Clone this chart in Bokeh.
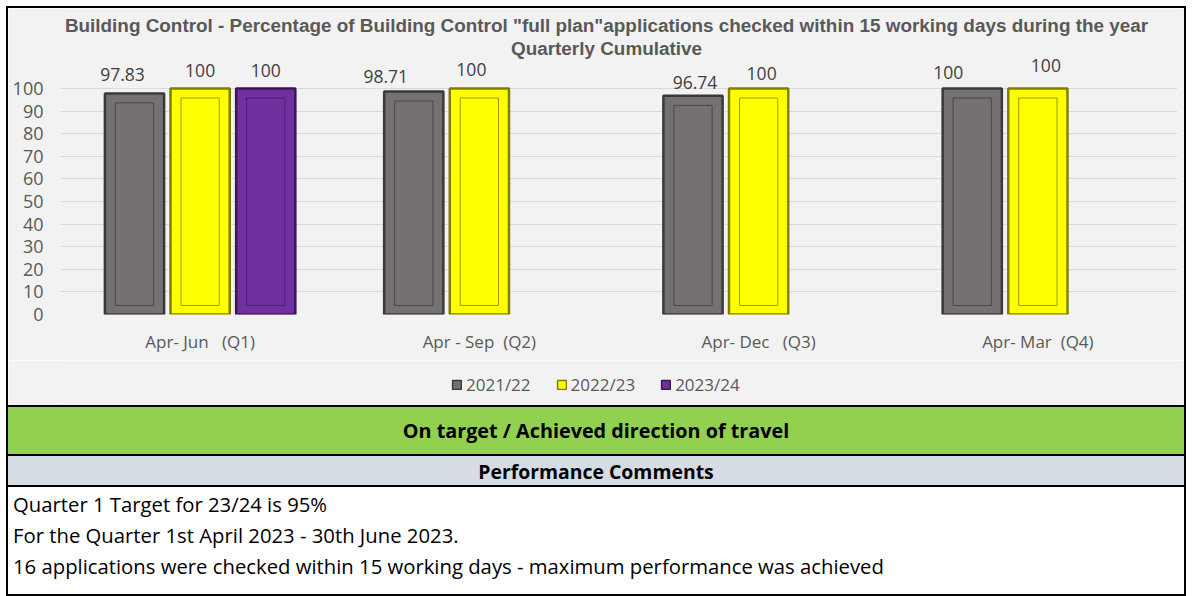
from bokeh.plotting import figure
from bokeh.models import (ColumnDataSource, Range1d, FactorRange, FixedTicker, Legend,
                          LegendItem, Column, Div, Label)
from bokeh.transform import dodge
from bokeh.core.properties import value
from bokeh.embed import file_html
from bokeh.resources import INLINE

# ---------------- data ----------------
NB = "\u00a0"
quarters = ["Apr- Jun   (Q1)", "Apr - Sep  (Q2)", "Apr- Dec   (Q3)", "Apr- Mar  (Q4)"]
series_names = ["2021/22", "2022/23", "2023/24"]
fy2122 = [97.83, 98.71, 96.74, 100]
fy2223 = [100, 100, 100, 100]
fy2324 = [100, None, None, None]
y_ticks = [0, 10, 20, 30, 40, 50, 60, 70, 80, 90, 100]

title_line1 = 'Building Control - Percentage of Building Control "full plan"applications checked within 15 working days during the year'
title_line2 = "Quarterly Cumulative"
status_text = "On target / Achieved direction of travel"
comments_header = "Performance Comments"
comments = [
    "Quarter 1 Target for 23/24 is 95%",
    "For the Quarter 1st April 2023 - 30th June 2023.",
    "16 applications were checked within 15 working days - maximum performance was achieved",
]

# ---------------- style ----------------
W = 1176
BG = "#f2f2f2"
GREY_TXT = "#595959"
fills = ["#767171", "#ffff00", "#7030a0"]
edges = ["#3a3838", "#7f7f00", "#3b1656"]
inner = ["#4a4747", "#9a9a00", "#4b1f6f"]
offsets = [-0.235, 0.0, 0.235]
BAR_W = 0.212
FONT = "Open Sans"
ML, MR = 52, 7
CH = 352            # chart canvas height
FRAME_H = 306       # frame height (top of canvas to the 0 line)
PX_PER_UNIT = 2.26
TITLE_CX = 546      # title centre, px from the frame's left edge
# per-label pixel nudges (as placed in the original chart): (dx, gap above bar top)
label_dx = [[-12, -28, 2, -24], [0, -8, 3, 8], [0, 0, 0, 0]]
label_gap = [[19, 15, 13, 16], [18, 19, 15, 23], [18, 18, 18, 18]]

# ---------------- chart ----------------
factors = [q.replace(" ", NB) for q in quarters]
y_end = FRAME_H / PX_PER_UNIT
p = figure(width=W, height=CH, x_range=FactorRange(*factors), y_range=Range1d(0, y_end),
           output_backend="svg", toolbar_location=None,
           min_border_left=ML, min_border_right=MR, min_border_top=0,
           min_border_bottom=CH - FRAME_H,
           background_fill_color=BG, border_fill_color=BG, margin=0)
p.outline_line_color = None

# two-line chart title
for txt, dy in ((title_line1, 17), (title_line2, 40)):
    p.add_layout(Label(x=0, y=y_end - dy / PX_PER_UNIT, x_offset=TITLE_CX, text=txt,
                       text_align="center", text_baseline="middle",
                       text_font="Liberation Sans", text_font_style="bold",
                       text_font_size="18.9px", text_color=GREY_TXT))

for i, vals in enumerate([fy2122, fy2223, fy2324]):
    keep = [j for j, v in enumerate(vals) if v is not None]
    vv = [vals[j] for j in keep]
    src = ColumnDataSource(dict(q=[factors[j] for j in keep], v=vv,
                                lbl=[f"{v:g}" for v in vv],
                                vi=[v - 4.2 for v in vv],
                                dx=[label_dx[i][j] for j in keep],
                                dy=[-label_gap[i][j] for j in keep]))
    x = dodge("q", offsets[i], range=p.x_range)
    p.vbar(x=x, top="v", bottom=0, width=BAR_W, source=src,
           fill_color=fills[i], line_color=edges[i], line_width=2.5)
    p.vbar(x=x, top="vi", bottom=4.0, width=BAR_W - 0.075, source=src,
           fill_alpha=0, line_color=inner[i], line_width=1)
    p.text(x=x, y="v", text="lbl", source=src, x_offset="dx", y_offset="dy",
           text_align="center", text_baseline="middle",
           text_font=value(FONT), text_font_size="17.5px", text_color="#404040")

p.yaxis.ticker = FixedTicker(ticks=y_ticks)
p.ygrid.ticker = FixedTicker(ticks=y_ticks)
p.xgrid.grid_line_color = None
p.ygrid.grid_line_color = "#d9d9d9"
p.ygrid.grid_line_width = 1
for ax in (p.xaxis, p.yaxis):
    ax.axis_line_color = None
    ax.major_tick_line_color = None
    ax.minor_tick_line_color = None
    ax.major_label_text_color = GREY_TXT
    ax.major_label_text_font = FONT
    ax.major_label_text_font_size = "18px"
p.xaxis.major_label_text_font_size = "17px"
p.yaxis.major_label_standoff = 11
p.xaxis.major_label_standoff = 9
p.x_range.range_padding = 0

# ---------------- legend strip ----------------
pl = figure(width=W, height=45, x_range=Range1d(0, 1), y_range=Range1d(0, 1),
            output_backend="svg", toolbar_location=None,
            min_border_left=ML, min_border_right=MR, min_border_top=0, min_border_bottom=0,
            background_fill_color=BG, border_fill_color=BG, margin=0)
pl.axis.visible = False
pl.grid.visible = False
pl.outline_line_color = None
items = []
for i, name in enumerate(series_names):
    r = pl.vbar(x=[-5], top=[0], width=0.1, fill_color=fills[i], line_color=edges[i],
                line_width=1.5)
    items.append(LegendItem(label=name, renderers=[r]))
legend = Legend(items=items, orientation="horizontal", location=(391, 9),
                background_fill_alpha=0, border_line_color=None,
                label_text_font=FONT, label_text_font_size="17px", label_text_color=GREY_TXT,
                glyph_width=11, glyph_height=11, spacing=25, label_standoff=4,
                margin=0, padding=4)
pl.add_layout(legend, "center")

# ---------------- status panels ----------------
green_div = Div(
    text=(f'<div style="width:{W}px;height:51px;background:#92d050;border-top:2px solid black;'
          f'border-bottom:2px solid black;box-sizing:border-box;text-align:center;'
          f'font-family:\'Open Sans\';font-weight:bold;font-size:19.8px;color:black;line-height:48px">'
          f'{status_text}</div>'),
    width=W, height=51, margin=0)

header_div = Div(
    text=(f'<div style="width:{W}px;height:31px;background:#d6dce4;'
          f'border-bottom:2px solid black;box-sizing:border-box;text-align:center;'
          f'font-family:\'Open Sans\';font-weight:bold;font-size:19.4px;color:black;line-height:31px">'
          f'{comments_header}</div>'),
    width=W, height=31, margin=0)

comments_div = Div(
    text=(f'<div style="width:{W}px;height:107px;background:white;box-sizing:border-box;'
          f'padding:2px 0 0 5px;font-family:\'Open Sans\';font-size:20.3px;color:black;line-height:31px">'
          + "<br>".join(comments) + '</div>'),
    width=W, height=107, margin=0)

layout = Column(p, pl, green_div, header_div, comments_div, spacing=0,
                styles={"border": "2px solid black", "margin": "6px 0 0 6px",
                        "width": "fit-content"})

open("out.html", "w").write(file_html(layout, INLINE))
